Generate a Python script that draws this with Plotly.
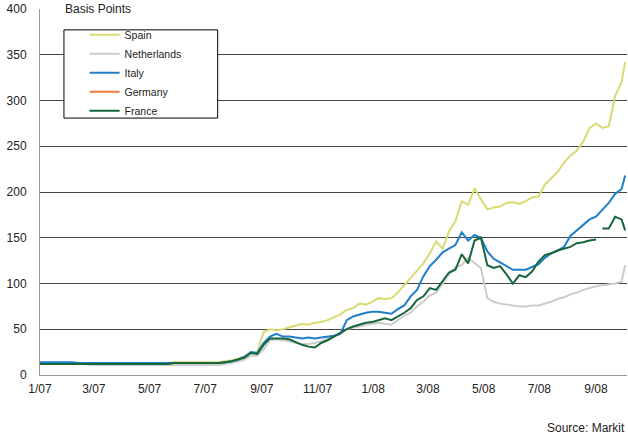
import pandas as pd
import plotly.graph_objects as go

# weekly observations, Jan 2007 - Sep 2008, plus one last print in early Oct
dates = list(pd.date_range("2007-01-01", periods=92, freq="7D")) + [pd.Timestamp("2008-10-03")]

spain = [
    13, 13, 13, 13, 13, 13, 13, 13, 13, 13,
    13, 13, 13, 13, 13, 13, 13, 13, 13, 13,
    13, 14, 14, 14, 14, 14, 14, 14, 14, 15,
    16, 18, 20, 24, 25, 47, 50, 49, 50, 52,
    54, 56, 55, 57, 58, 60, 63, 66, 71, 73,
    78, 77, 80, 84, 83, 84, 90, 98, 106, 115,
    122, 133, 146, 138, 157, 168, 190, 186, 204, 192,
    181, 183, 184, 188, 189, 187, 190, 194, 195, 208,
    215, 222, 232, 240, 245, 255, 270, 275, 270, 272,
    305, 320, 342,
]

netherlands = [
    12, 12, 12, 12, 12, 12, 12, 12, 11, 11,
    11, 11, 11, 11, 11, 11, 11, 11, 11, 11,
    11, 11, 11, 11, 11, 11, 11, 11, 11, 12,
    13, 15, 17, 21, 21, 28, 38, 39, 38, 37,
    35, 34, 34, 35, 37, 40, 42, 45, 50, 52,
    53, 55, 56, 57, 56, 55, 60, 65, 68, 75,
    80, 87, 90, 100, 110, 118, 120, 128, 122, 117,
    84, 80, 78, 77, 76, 75, 75, 76, 76, 78,
    80, 83, 85, 88, 90, 93, 95, 97, 98, 99,
    100, 102, 120,
]

italy = [
    14, 14, 14, 14, 14, 14, 13, 13, 13, 13,
    13, 13, 13, 13, 13, 13, 13, 13, 13, 13,
    13, 12.5, 12.5, 12.5, 12.5, 12.5, 12.5, 12.5, 13, 14,
    15, 17, 20, 25, 24, 35, 42, 45, 42, 42,
    41, 40, 41, 40, 41, 42, 43, 45, 60, 64,
    66, 68, 69, 69, 68, 67, 72, 76, 86, 93,
    108, 119, 126, 134, 138, 142, 156, 147, 153, 150,
    135, 127, 123, 119, 115, 115, 115, 118, 121, 128,
    133, 136, 140, 152, 158, 163, 170, 173, 181, 188,
    198, 203, 218,
]

# Germany is listed in the legend but no line is visible in the chart
germany = [None]

france = [
    12, 12, 12, 12, 12, 12, 12, 12, 12, 12,
    12, 12, 12, 12, 12, 12, 12, 12, 12, 12,
    12, 13, 13, 13, 13, 13, 13, 13, 13, 14,
    15, 17, 19, 24, 23, 33, 40, 40, 40, 39,
    36, 33, 31, 30, 35, 38, 42, 46, 50, 53,
    55, 57, 58, 60, 62, 60, 64, 68, 73, 82,
    86, 95, 93, 103, 112, 115, 132, 122, 147, 150,
    120, 117, 119, 110, 100, 109, 107, 113, 124, 131,
    133, 136, 138, 140, 144, 145, 147, 148,
]
# France series resumes after a break in the data
france_late = [160, 160, 173, 170, 158]

y_ticks = [0, 50, 100, 150, 200, 250, 300, 350, 400]

colors = {
    "Spain": "#DADA72",
    "Netherlands": "#CCCCCC",
    "Italy": "#1E7FC8",
    "Germany": "#F07A3A",
    "France": "#17663A",
}

fig = go.Figure()
for name, vals in [("Spain", spain), ("Netherlands", netherlands),
                   ("Italy", italy), ("Germany", germany), ("France", france)]:
    fig.add_trace(go.Scatter(
        x=dates[:len(vals)], y=vals, name=name, mode="lines",
        line=dict(color=colors[name], width=2),
    ))
fig.add_trace(go.Scatter(
    x=dates[-len(france_late):], y=france_late, mode="lines",
    line=dict(color=colors["France"], width=2), showlegend=False,
))

# legend frame (blocks the gridlines behind it)
fig.add_shape(type="rect", xref="paper", yref="paper",
              x0=0.0408, x1=0.3027, y0=0.702, y1=0.943,
              fillcolor="white", line=dict(color="black", width=1), layer="above")

fig.add_annotation(text="Basis Points", xref="paper", yref="paper",
                   x=0.038, y=1, xanchor="left", yanchor="middle",
                   showarrow=False, bgcolor="white", borderpad=2,
                   font=dict(size=12, color="#222"))
fig.add_annotation(text="Source: Markit", xref="paper", yref="paper",
                   x=1, y=-0.145, xanchor="right", yanchor="middle",
                   showarrow=False, font=dict(size=12, color="#222"))

fig.update_layout(
    width=628, height=437,
    margin=dict(l=40, r=1, t=9, b=62),
    paper_bgcolor="white", plot_bgcolor="white",
    font=dict(family="Liberation Sans, Arial, sans-serif", size=12, color="#222"),
    legend=dict(x=0.076, y=0.969, xanchor="left", yanchor="top",
                bgcolor="rgba(0,0,0,0)", borderwidth=0,
                font=dict(size=10.5), tracegroupgap=0),
    xaxis=dict(type="date", range=["2007-01-01", "2008-10-05"],
               tick0="2007-01-01", dtick="M2", tickformat="%-m/%y",
               showgrid=False, showline=True, linecolor="#999", linewidth=1,
               ticks="", ticklabelstandoff=3),
    yaxis=dict(range=[0, 400], tickvals=y_ticks, showgrid=True,
               gridcolor="#444", gridwidth=1, zeroline=False,
               showline=True, linecolor="#999", linewidth=1, ticks="",
               ticklabelstandoff=10),
)

# page body has a default 8px margin; drop it so the chart fills the window
fig.write_html("out.html", config={"displayModeBar": False},
               post_script="document.body.style.margin='0';")
